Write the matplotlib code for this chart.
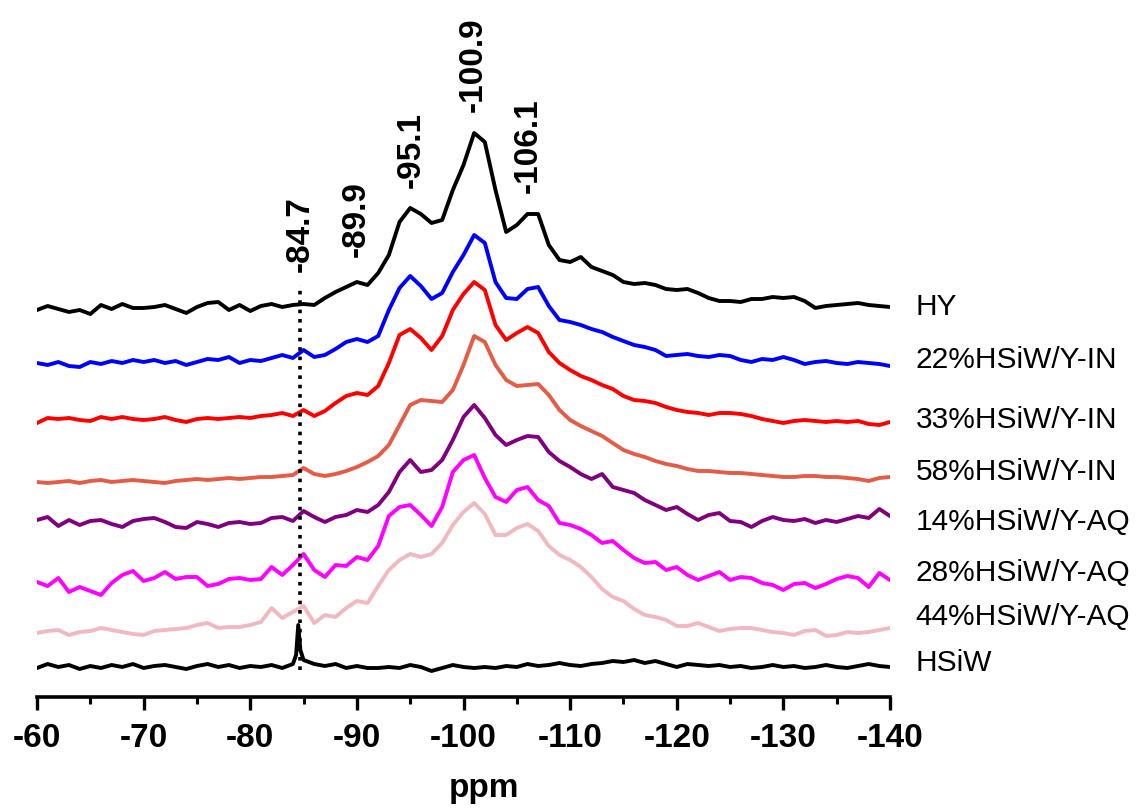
import numpy as np
import matplotlib
matplotlib.use("Agg")
import matplotlib.pyplot as plt
from matplotlib.ticker import MultipleLocator

plt.rcParams['font.family'] = ['Liberation Sans', 'DejaVu Sans']

# chemical shift grid (ppm), one reading per ppm
ppm = np.arange(-60, -141, -1)

# 29Si MAS NMR intensities (arbitrary units, relative to each baseline)
hy = [0, 4, 1, -2, 0, -4, 5, 1, 6, 2, 2, 3, 5, 1, -3, 3, 7, 8, 0, 5,
      -1, 4, 6, 3, 5, 6, 5, 12, 18, 23, 28, 25, 37, 55, 88, 102, 96, 87, 90, 120,
      145, 177, 168, 120, 78, 85, 96, 96, 65, 50, 48, 53, 43, 39, 35, 28, 26, 27, 25, 21,
      20, 21, 17, 12, 9, 9, 8, 11, 11, 13, 12, 13, 9, 2, 4, 5, 6, 7, 5, 4, 3]
hsiw_y_in = [0, -2, 1, -3, -4, 1, -1, 2, 0, 3, 1, 3, 0, 2, -2, 1, 4, 3, 6, 0,
             3, 2, 5, 8, 5, 13, 6, 8, 14, 21, 24, 21, 27, 53, 75, 87, 77, 64, 70, 91,
             108, 128, 120, 81, 65, 64, 74, 76, 57, 43, 41, 38, 34, 31, 26, 22, 18, 16, 13, 7,
             8, 9, 7, 6, 8, 7, 3, 1, 4, 3, 6, 3, -1, 1, 2, 0, -1, 1, 0, -1, -3]
hsiw33_y_in = [-1, 4, 3, 4, 2, 1, 5, 3, 5, 3, 2, 3, 5, 2, 0, 3, 4, 3, 4, 5,
               4, 6, 7, 9, 6, 12, 6, 11, 19, 26, 29, 27, 36, 59, 87, 93, 84, 72, 86, 112,
               128, 140, 132, 97, 82, 89, 95, 89, 70, 59, 52, 46, 42, 37, 33, 26, 22, 21, 19, 15,
               12, 10, 9, 7, 9, 9, 8, 6, 3, 1, -1, 1, 2, 1, 0, 1, 0, 1, -2, -3, 0]
hsiw58_y_in = [0, -1, 0, 1, -1, 1, 2, 0, 1, 2, 1, 0, -1, 1, 2, 3, 2, 3, 4, 3,
               4, 5, 5, 6, 7, 14, 8, 6, 8, 11, 15, 20, 26, 37, 57, 77, 82, 81, 80, 92,
               117, 146, 140, 117, 102, 96, 97, 98, 87, 72, 62, 56, 51, 46, 39, 32, 28, 25, 21, 18,
               16, 13, 11, 11, 10, 9, 9, 8, 7, 6, 5, 5, 6, 6, 5, 5, 4, 3, 1, 4, 5]
hsiw14_y_aq = [0, 3, -6, 0, -5, -1, 0, -4, -7, -1, 1, 2, -2, -7, -8, -2, -4, -7, -3, -2,
               -4, -3, 2, 3, -1, 9, 3, -2, 3, 5, 10, 8, 15, 28, 48, 60, 48, 50, 60, 80,
               103, 115, 102, 85, 75, 80, 84, 83, 68, 59, 53, 46, 41, 46, 33, 30, 27, 20, 15, 10,
               13, 6, 0, 5, 7, -1, -2, -7, -1, 3, 0, -1, 1, -3, 0, -2, 1, 4, 2, 11, 4]
hsiw28_y_aq = [1, -3, 5, -9, -4, -8, -12, 0, 8, 12, 2, 5, 11, 4, 6, 6, -3, -1, 4, 5,
               3, 4, 16, 8, 18, 29, 13, 6, 18, 17, 26, 23, 37, 67, 76, 78, 68, 57, 76, 111,
               123, 128, 105, 86, 81, 93, 96, 83, 77, 60, 58, 54, 48, 40, 42, 33, 25, 20, 21, 13,
               16, 8, 3, 7, 11, 3, 6, 5, 0, -2, -7, -1, 0, -5, -1, 4, 7, 5, -4, 10, 3]
hsiw44_y_aq = [0, 2, 3, -2, 1, 2, 5, 3, 1, -1, -2, 2, 3, 4, 5, 8, 10, 5, 6, 6,
               8, 11, 25, 15, 21, 27, 10, 18, 16, 25, 32, 30, 47, 63, 73, 79, 76, 79, 90, 108,
               121, 130, 119, 98, 98, 105, 109, 102, 87, 78, 73, 66, 56, 44, 36, 32, 24, 18, 16, 13,
               7, 7, 10, 6, 2, 4, 5, 5, 3, 1, 0, -2, 2, 3, -3, -2, 1, 0, 1, 3, 5]
hsiw_base = [-1, 3, 0, 2, -2, 1, -1, 2, 0, 3, -1, 1, 2, 0, -2, 1, 3, 0, 2, -1,
             1, 0, 2, -1, 3, 7, 3, 1, 3, -1, 1, -1, -1, 0, -1, 2, 0, -4, -1, 2,
             0, -1, 0, -1, 1, 0, 3, 1, 2, 4, 2, 1, 3, 4, 6, 5, 7, 4, 6, 3,
             0, 3, 2, 1, 2, 0, 1, -1, 0, 2, 0, 1, -1, 0, 2, 0, -1, 1, 3, 1, 0]
# sharp Keggin-unit resonance of the pure heteropolyacid
hsiw_peak_ppm = [-84.3, -84.5, -84.7]
hsiw_peak_val = [12, 42, 17]

names = ["HY", "22%HSiW/Y-IN", "33%HSiW/Y-IN", "58%HSiW/Y-IN",
         "14%HSiW/Y-AQ", "28%HSiW/Y-AQ", "44%HSiW/Y-AQ", "HSiW"]
series = [hy, hsiw_y_in, hsiw33_y_in, hsiw58_y_in,
          hsiw14_y_aq, hsiw28_y_aq, hsiw44_y_aq, hsiw_base]
colors = ["#000000", "#0000FF", "#FF0000", "#E55B45",
          "#800080", "#FF00FF", "#F2B8BF", "#000000"]
offsets = [387, 334, 275, 215, 177, 114, 64, 30]
label_y = [390, 337, 277, 225, 175, 124, 80, 34]

peak_labels = [-84.7, -89.9, -95.1, -100.9, -106.1]
peak_label_base = [425, 440, 509, 585, 504]

fig = plt.figure(figsize=(11.42, 8.09), dpi=100)
ax = fig.add_axes([37 / 1142, 112 / 809, 853 / 1142, 697 / 809])

for name, vals, col, off, ly in zip(names, series, colors, offsets, label_y):
    x = ppm.astype(float)
    y = np.asarray(vals, dtype=float)
    if name == "HSiW":
        x = np.concatenate([x, hsiw_peak_ppm])
        y = np.concatenate([y, hsiw_peak_val])
        order = np.argsort(-x)
        x, y = x[order], y[order]
    ax.plot(x, y + off, color=col, lw=2.8, solid_joinstyle='round')
    ax.text(-142.4, ly, name, fontsize=21.5, ha='left', va='center',
            clip_on=False)

# reference line through the HSiW resonance
ax.plot([-84.7, -84.7], [27, 412], color='black', lw=2.6,
        ls=(0, (1, 1.6)))

for pk, yb in zip(peak_labels, peak_label_base):
    ax.text(pk, yb, f"{pk:.1f}", rotation=90, ha='center', va='bottom',
            fontsize=24, fontweight='bold', clip_on=False)

ax.set_xlim(-60, -140)
ax.set_ylim(0, 697)
for side in ("left", "right", "top"):
    ax.spines[side].set_visible(False)
ax.spines['bottom'].set_linewidth(2.6)
ax.set_yticks([])
ax.xaxis.set_major_locator(MultipleLocator(10))
ax.xaxis.set_minor_locator(MultipleLocator(5))
ax.tick_params(axis='x', which='major', direction='out', length=9, width=2.4,
               labelsize=24, pad=10)
ax.tick_params(axis='x', which='minor', direction='out', length=5, width=2.2)
ax.set_xticks(np.arange(-60, -141, -10))
ax.set_xticklabels([str(v) for v in np.arange(-60, -141, -10)],
                   fontweight='bold', fontsize=24)
ax.patch.set_alpha(0)

fig.text(484 / 1142, 1 - 797 / 809, "ppm", ha='center', va='baseline',
         fontsize=24, fontweight='bold')

fig.savefig("out.png", dpi=100, facecolor='white')
